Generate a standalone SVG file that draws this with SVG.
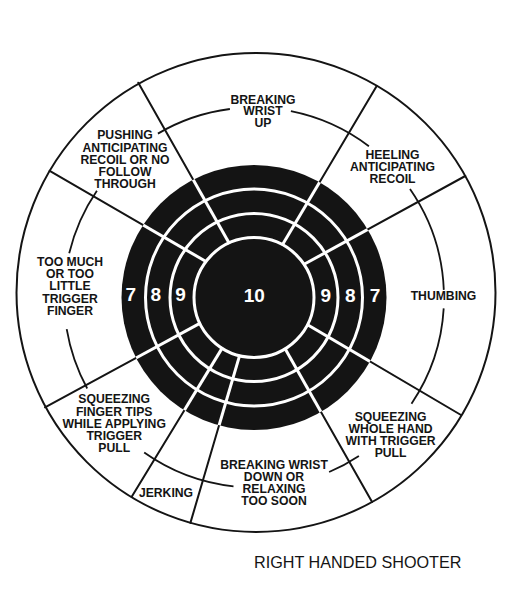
<svg xmlns="http://www.w3.org/2000/svg" width="516" height="594" viewBox="0 0 516 594">
<defs>
<style>
.lbl{font-family:"Liberation Sans",Arial,sans-serif;font-weight:bold;font-size:12.2px;fill:#141414;text-anchor:middle}
.num{font-family:"Liberation Sans",Arial,sans-serif;font-weight:bold;font-size:19px;fill:#fff;text-anchor:middle}
.blk{stroke:#141414;stroke-width:2;fill:none;stroke-linecap:round}
.wht{stroke:#fff;stroke-width:3;fill:none}
.lead{stroke:#141414;stroke-width:1.8;fill:none}
</style>
<clipPath id="disc"><circle cx="254" cy="297.5" r="132.5"/></clipPath>
<g id="radials">
<path d="M138.3,82.7 L229.5,243.8"/>
<path d="M49.7,170.8 L206.8,262"/>
<path d="M376.7,86 L282,245.6"/>
<path d="M465.3,176 L303.2,264.8"/>
<path d="M461,415 L306.7,324.2"/>
<path d="M372.1,502 L284.7,348.1"/>
<path d="M190.4,522.9 L239.8,354.8"/>
<path d="M131.7,496.7 L222.6,347.4"/>
<path d="M45,407.3 L200.7,322.9"/>
</g>
</defs>
<rect width="516" height="594" fill="#fff"/>
<g id="frame">
<circle class="blk" cx="256" cy="292.5" r="239.5"/>
<use href="#radials" class="blk"/>
</g>
<g id="target">
<circle cx="254" cy="297.5" r="132.5" fill="#141414"/>
<circle class="wht" cx="254" cy="297.5" r="108.5"/>
<circle class="wht" cx="254" cy="297.5" r="84"/>
<circle class="wht" cx="254" cy="297.5" r="60"/>
<use href="#radials" class="wht" clip-path="url(#disc)"/>
<text class="num" x="254.2" y="301.5">10</text>
<text class="num" x="130.8" y="300.5">7</text>
<text class="num" x="155.8" y="300.5">8</text>
<text class="num" x="180.5" y="300.5">9</text>
<text class="num" x="325.8" y="301.5">9</text>
<text class="num" x="350.3" y="301.5">8</text>
<text class="num" x="375" y="301.5">7</text>
</g>
<g id="connectors">
<path class="lead" d="M157.9,133.6 A190,190 0 0 1 229.9,109"/>
<path class="lead" d="M290.9,111.1 A190,190 0 0 1 368.9,146.2"/>
<path class="lead" d="M410,189.1 A190,190 0 0 1 443.8,289.9"/>
<path class="lead" d="M443.7,308.4 A190,190 0 0 1 411.5,403.7"/>
<path class="lead" d="M358.9,455.9 A190,190 0 0 1 329.1,472"/>
<path class="lead" d="M233.5,486.4 A190,190 0 0 1 144.2,452.6"/>
<path class="lead" d="M87.2,388.5 A190,190 0 0 1 66.7,329.2"/>
<path class="lead" d="M69.2,253.2 A190,190 0 0 1 96.9,190.7"/>
</g>
<g id="breaking-wrist-up">
<text class="lbl" y="103.5"><tspan x="263">BREAKING</tspan><tspan x="263" dy="11.8">WRIST</tspan><tspan x="263" dy="11.7">UP</tspan></text>
</g>
<g id="heeling">
<text class="lbl" y="159"><tspan x="392.5">HEELING</tspan><tspan x="392.5" dy="12">ANTICIPATING</tspan><tspan x="392.5" dy="12.3">RECOIL</tspan></text>
</g>
<g id="thumbing">
<text class="lbl" x="443.5" y="300">THUMBING</text>
</g>
<g id="squeezing-whole-hand">
<text class="lbl" y="420.7"><tspan x="390.6">SQUEEZING</tspan><tspan x="390.6" dy="11.8">WHOLE HAND</tspan><tspan x="390.6" dy="12.2">WITH TRIGGER</tspan><tspan x="390.6" dy="12">PULL</tspan></text>
</g>
<g id="breaking-wrist-down">
<text class="lbl" y="468.5"><tspan x="274">BREAKING WRIST</tspan><tspan x="274" dy="12.5">DOWN OR</tspan><tspan x="274" dy="12.3">RELAXING</tspan><tspan x="274" dy="12">TOO SOON</tspan></text>
</g>
<g id="jerking">
<text class="lbl" x="166" y="496.7">JERKING</text>
</g>
<g id="squeezing-finger-tips">
<text class="lbl" y="403.3"><tspan x="114.2">SQUEEZING</tspan><tspan x="114.2" dy="12.3">FINGER TIPS</tspan><tspan x="114.2" dy="12.2">WHILE APPLYING</tspan><tspan x="114.2" dy="12.2">TRIGGER</tspan><tspan x="114.2" dy="11.8">PULL</tspan></text>
</g>
<g id="too-much-trigger-finger">
<text class="lbl" y="265.7"><tspan x="70">TOO MUCH</tspan><tspan x="70" dy="12.3">OR TOO</tspan><tspan x="70" dy="12.2">LITTLE</tspan><tspan x="70" dy="12.3">TRIGGER</tspan><tspan x="70" dy="12">FINGER</tspan></text>
</g>
<g id="pushing">
<text class="lbl" y="139.3"><tspan x="125">PUSHING</tspan><tspan x="125" dy="12.3">ANTICIPATING</tspan><tspan x="125" dy="12.3">RECOIL OR NO</tspan><tspan x="125" dy="12.2">FOLLOW</tspan><tspan x="125" dy="12.3">THROUGH</tspan></text>
</g>
<g id="caption">
<text x="254" y="567.7" font-family="'Liberation Sans',Arial,sans-serif" font-size="16.2" fill="#141414">RIGHT HANDED SHOOTER</text>
</g>
</svg>
